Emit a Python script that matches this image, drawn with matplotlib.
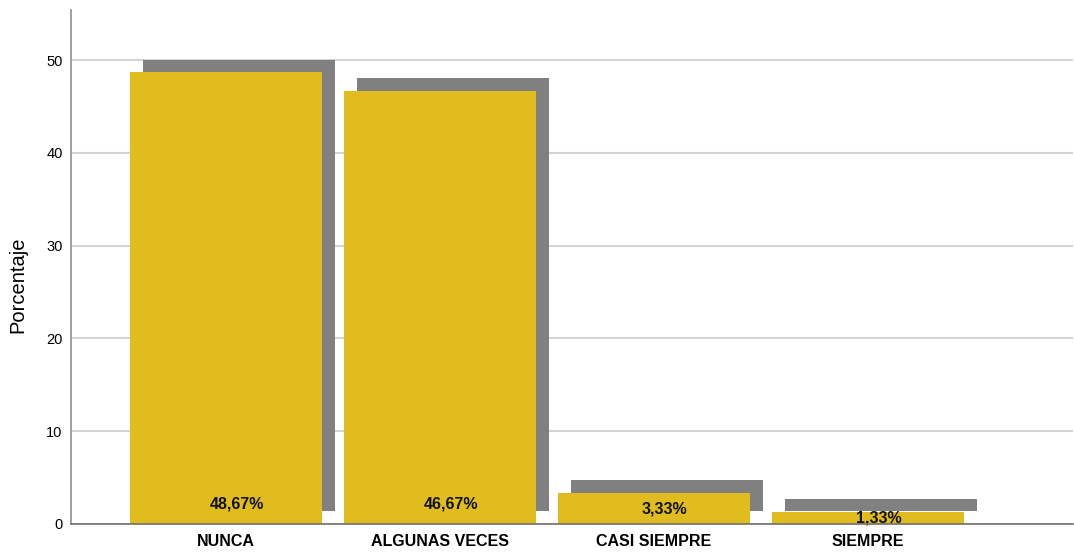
import matplotlib.pyplot as plt
from matplotlib.patches import Rectangle

categorias = ['NUNCA', 'ALGUNAS VECES', 'CASI SIEMPRE', 'SIEMPRE']
porcentajes = [48.67, 46.67, 3.33, 1.33]
etiquetas = ['48,67%', '46,67%', '3,33%', '1,33%']
yticks = [0, 10, 20, 30, 40, 50]

AMARILLO = '#e0bc1f'
SOMBRA = '#808080'
ancho = 0.897
dx, dy = 0.061, 1.37

plt.rcParams['font.family'] = ['Liberation Sans', 'DejaVu Sans']

fig = plt.figure(figsize=(10.74, 5.54), dpi=100)
ax = fig.add_axes([0.0661, 0.0542, 0.9329, 0.9278])

xs = list(range(len(categorias)))
for x, v, txt in zip(xs, porcentajes, etiquetas):
    # sombra desplazada detrás de cada barra
    ax.add_patch(Rectangle((x - ancho / 2 + dx, dy), ancho, v,
                           facecolor=SOMBRA, edgecolor='none', zorder=2))
    ax.add_patch(Rectangle((x - ancho / 2, 0), ancho, v,
                           facecolor=AMARILLO, edgecolor='none', zorder=3))
    ax.text(x + 0.05, min(v / 2, 2.2), txt, ha='center', va='center',
            fontsize=11.5, fontweight='bold', color='#111111', zorder=4)

ax.set_xlim(-0.724, 3.958)
ax.set_ylim(0, 55.4)
ax.set_xticks(xs)
ax.set_xticklabels(categorias, fontsize=11.5, fontweight='bold')
ax.set_yticks(yticks)
ax.set_yticklabels([str(t) for t in yticks], fontsize=10.5)
ax.tick_params(axis='x', length=0, pad=7)
ax.tick_params(axis='y', length=0, pad=6)

ax.yaxis.grid(True, color='#d4d4d4', linewidth=1.5, zorder=1)
ax.set_axisbelow(True)

for lado in ['top', 'right']:
    ax.spines[lado].set_visible(False)
ax.spines['left'].set_color('#909090')
ax.spines['left'].set_linewidth(1.2)
ax.spines['bottom'].set_color('#707070')
ax.spines['bottom'].set_linewidth(1.2)
ax.spines['bottom'].set_zorder(5)

ax.set_ylabel('Porcentaje', fontsize=14.5)
ax.yaxis.set_label_coords(-0.044, 0.465)

fig.savefig('out.png', dpi=100)
